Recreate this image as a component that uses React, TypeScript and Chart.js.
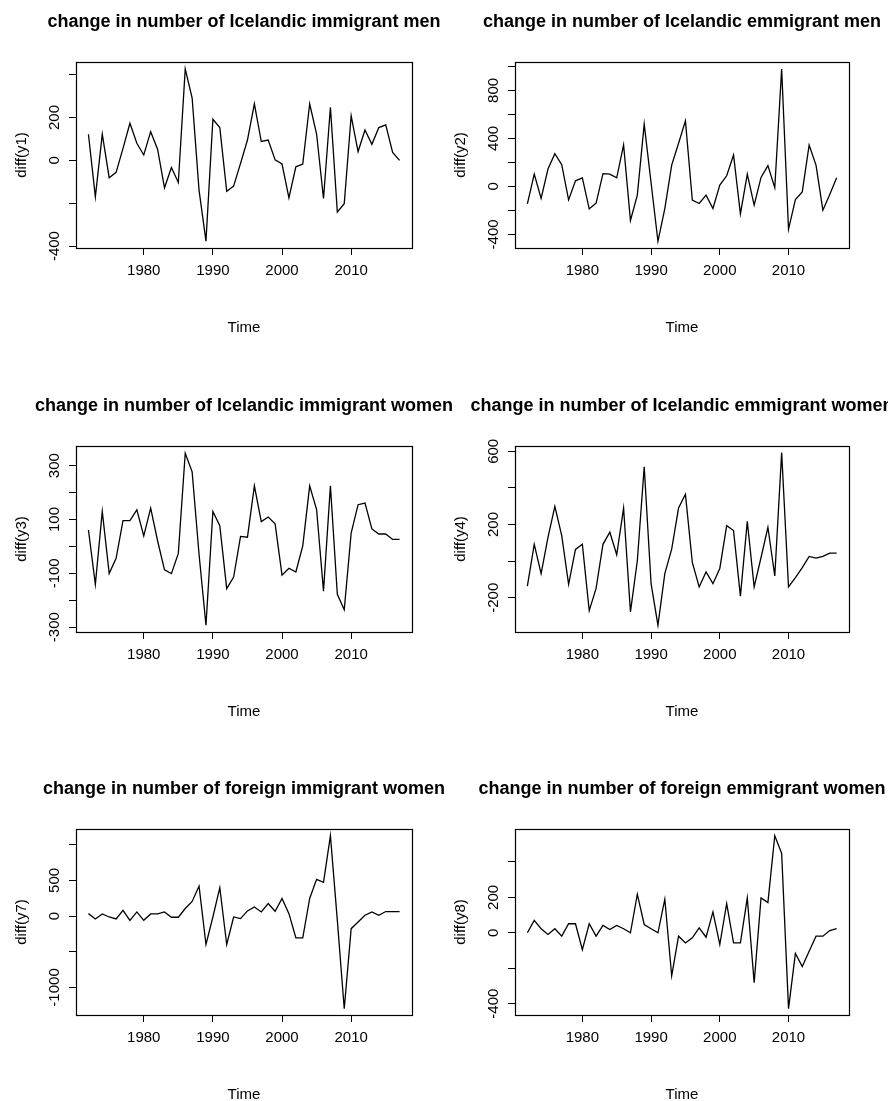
import React, { useEffect, useRef } from 'react';
import { Chart, registerables } from 'chart.js';

Chart.register(...registerables);

const years = [
  1972, 1973, 1974, 1975, 1976, 1977, 1978, 1979, 1980, 1981,
  1982, 1983, 1984, 1985, 1986, 1987, 1988, 1989, 1990, 1991,
  1992, 1993, 1994, 1995, 1996, 1997, 1998, 1999, 2000, 2001,
  2002, 2003, 2004, 2005, 2006, 2007, 2008, 2009, 2010, 2011,
  2012, 2013, 2014, 2015, 2016, 2017,
];

const xTickValues = [1980, 1990, 2000, 2010];

const y1 = [
  122, -170, 122, -81, -56, 56, 173, 80, 25, 134,
  52, -128, -33, -103, 427, 291, -140, -377, 192, 153,
  -144, -120, -14, 95, 264, 88, 95, 2, -17, -175,
  -30, -17, 264, 123, -178, 248, -241, -202, 208, 41,
  142, 75, 153, 166, 37, 0,
];
const y2 = [
  -145, 103, -100, 145, 273, 181, -112, 47, 72, -187,
  -139, 106, 103, 72, 346, -284, -72, 519, 31, -457,
  -184, 178, 360, 546, -114, -142, -72, -184, 11, 89,
  262, -229, 103, -156, 75, 173, -11, 979, -357, -109,
  -45, 346, 178, -198, -67, 72,
];
const y3 = [
  61, -141, 130, -101, -44, 96, 96, 136, 39, 142,
  21, -87, -101, -26, 346, 277, -30, -293, 130, 77,
  -157, -114, 37, 34, 225, 92, 109, 84, -107, -81,
  -95, 2, 225, 137, -166, 225, -178, -235, 49, 155,
  161, 65, 46, 46, 26, 26,
];
const y4 = [
  -136, 92, -68, 130, 299, 139, -127, 64, 92, -270,
  -149, 92, 158, 35, 290, -277, 2, 516, -123, -350,
  -68, 66, 290, 365, -7, -141, -59, -123, -40, 194,
  167, -191, 217, -141, 20, 185, -81, 593, -141, -90,
  -35, 26, 17, 26, 44, 44,
];
const y7 = [
  35, -40, 31, -12, -40, 82, -59, 59, -59, 31,
  31, 59, -16, -16, 106, 205, 421, -398, -12, 398,
  -398, -12, -35, 73, 129, 59, 176, 68, 247, 35,
  -304, -304, 247, 515, 473, 1127, -59, -1298, -176, -82,
  12, 59, 12, 64, 64, 64,
];
const y8 = [
  0, 70, 23, -9, 23, -19, 51, 51, -95, 51,
  -19, 42, 19, 42, 23, 0, 218, 47, 23, 0,
  190, -243, -19, -57, -28, 28, -25, 118, -66, 165,
  -57, -57, 197, -281, 197, 171, 548, 449, -428, -116,
  -190, -104, -19, -19, 13, 23,
];

const titles = [
  'change in number of Icelandic immigrant men',
  'change in number of Icelandic emmigrant men',
  'change in number of Icelandic immigrant women',
  'change in number of Icelandic emmigrant women',
  'change in number of foreign immigrant women',
  'change in number of foreign emmigrant women',
];
const yAxisTitles = ['diff(y1)', 'diff(y2)', 'diff(y3)', 'diff(y4)', 'diff(y7)', 'diff(y8)'];
const seriesList = [y1, y2, y3, y4, y7, y8];
const yLimits = [
  [-409, 459],
  [-513, 1037],
  [-318, 373],
  [-387, 629],
  [-1386, 1221],
  [-464, 586],
];
const yTickValues = [
  [-400, -200, 0, 200, 400],
  [-400, -200, 0, 200, 400, 600, 800, 1000],
  [-300, -200, -100, 0, 100, 200, 300],
  [-200, 0, 200, 400, 600],
  [-1000, -500, 0, 500, 1000],
  [-400, -200, 0, 200, 400],
];
const yTickLabelValues = [
  [-400, 0, 200],
  [-400, 0, 400, 800],
  [-300, -100, 100, 300],
  [-200, 200, 600],
  [-1000, 0, 500],
  [-400, 0, 200],
];

const FONT = '"Liberation Sans", Arial, Helvetica, sans-serif';
const X_MIN = 1970.2;
const X_MAX = 2018.8;

// layout (positions/sizes), separate from data
const COLS = [
  { left: 0, width: 488, yW: 76, titlePad: 12.5 },
  { left: 444, width: 476, yW: 71, titlePad: 7.5 },
];
const ROW_TOPS = [0, 384, 767];
const CANVAS_H = 350;

const rBoxPlugin = {
  id: 'rbox',
  afterDraw(chart: any, _args: any, opts: any) {
    const { ctx, chartArea: a } = chart;
    ctx.save();
    ctx.strokeStyle = '#000';
    ctx.lineWidth = 1.2;
    const l = Math.round(a.left) + 0.5;
    const t = Math.round(a.top) + 0.5;
    const r = Math.round(a.right) + 0.5;
    const b = Math.round(a.bottom) + 0.5;
    ctx.strokeRect(l, t, r - l, b - t);
    const ys = chart.scales.y;
    ctx.fillStyle = '#000';
    ctx.font = `15px ${FONT}`;
    ctx.textAlign = 'center';
    ctx.textBaseline = 'middle';
    for (const v of opts.labels || []) {
      const py = ys.getPixelForValue(v);
      ctx.save();
      ctx.translate(a.left - 21.5, py);
      ctx.rotate(-Math.PI / 2);
      ctx.fillText(String(v), 0, 0);
      ctx.restore();
    }
    ctx.restore();
  },
};

function Panel({ idx }: { idx: number }) {
  const ref = useRef<HTMLCanvasElement>(null);
  const col = COLS[idx % 2];
  const top = ROW_TOPS[Math.floor(idx / 2)];
  useEffect(() => {
    const values = seriesList[idx];
    const chart = new Chart(ref.current as HTMLCanvasElement, {
      type: 'line',
      data: {
        datasets: [
          {
            data: years.map((yr, i) => ({ x: yr, y: values[i] })),
            borderColor: '#000',
            borderWidth: 1.3,
            pointRadius: 0,
            tension: 0,
            fill: false,
          },
        ],
      },
      options: {
        responsive: false,
        animation: false,
        events: [],
        layout: { padding: 0 },
        plugins: {
          legend: { display: false },
          tooltip: { enabled: false },
          title: {
            display: true,
            text: titles[idx],
            color: '#000',
            font: { family: FONT, size: 18, weight: 'bold', lineHeight: 1.2 },
            padding: { top: 11.2, bottom: 29.2 },
          },
          rbox: { labels: yTickLabelValues[idx] },
        } as any,
        scales: {
          x: {
            type: 'linear',
            position: 'bottom',
            min: X_MIN,
            max: X_MAX,
            afterBuildTicks: (s: any) => {
              s.ticks = xTickValues.map((v) => ({ value: v }));
            },
            afterFit: (s: any) => {
              s.height = CANVAS_H - 248;
            },
            grid: { drawOnChartArea: false, drawTicks: true, tickLength: 7, color: '#000', lineWidth: 1 },
            border: { display: false },
            ticks: {
              color: '#000',
              font: { family: FONT, size: 15 },
              padding: 7,
              maxRotation: 0,
              minRotation: 0,
              autoSkip: false,
              callback: (v: any) => String(v),
            },
            title: {
              display: true,
              text: 'Time',
              color: '#000',
              font: { family: FONT, size: 15 },
              padding: { top: 0, bottom: 13 },
            },
          },
          y: {
            type: 'linear',
            position: 'left',
            min: yLimits[idx][0],
            max: yLimits[idx][1],
            afterBuildTicks: (s: any) => {
              s.ticks = yTickValues[idx].map((v) => ({ value: v }));
            },
            afterFit: (s: any) => {
              s.width = col.yW;
            },
            grid: { drawOnChartArea: false, drawTicks: true, tickLength: 7, color: '#000', lineWidth: 1 },
            border: { display: false },
            ticks: { display: false },
            title: {
              display: true,
              text: yAxisTitles[idx],
              color: '#000',
              font: { family: FONT, size: 15 },
              padding: { top: col.titlePad, bottom: 0 },
            },
          },
          yRight: {
            type: 'linear',
            position: 'right',
            display: true,
            afterFit: (s: any) => {
              s.width = col.yW;
            },
            grid: { display: false, drawTicks: false },
            border: { display: false },
            ticks: { display: false },
          },
        },
      } as any,
      plugins: [rBoxPlugin],
    });
    return () => chart.destroy();
  }, [idx]);
  return (
    <canvas
      ref={ref}
      width={col.width}
      height={CANVAS_H}
      style={{ position: 'absolute', left: col.left, top, width: col.width, height: CANVAS_H }}
    />
  );
}

export default function App() {
  return (
    <div
      style={{
        position: 'absolute',
        left: 0,
        top: 0,
        width: 888,
        height: 1101,
        overflow: 'hidden',
        background: '#fff',
      }}
    >
      {[0, 1, 2, 3, 4, 5].map((i) => (
        <Panel key={i} idx={i} />
      ))}
    </div>
  );
}
